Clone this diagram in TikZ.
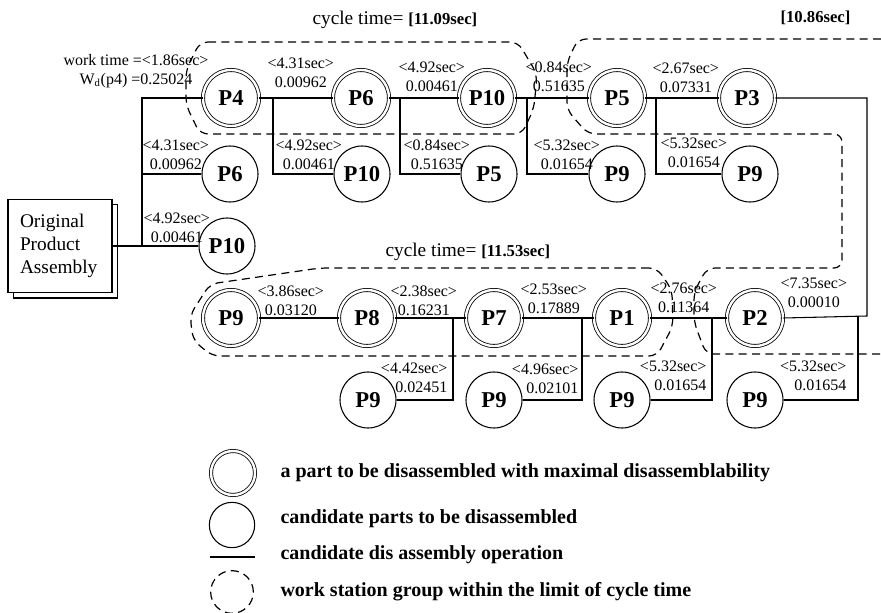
\documentclass[tikz,border=0pt]{standalone}
\usepackage{fontspec}
\setmainfont{Liberation Serif}
\usetikzlibrary{shadows}

\begin{document}
\begin{tikzpicture}[x=0.75pt, y=-0.75pt, line width=0.8pt,
  part/.style={circle, draw, minimum size=42pt, inner sep=0pt,
    font=\fontsize{17}{20}\selectfont\bfseries},
  best/.style={part, double, double distance=1.8pt, line width=0.6pt},
  lbl/.style={inner sep=0pt, align=center, anchor=west,
    font=\fontsize{12}{14}\selectfont},
  rlbl/.style={lbl, align=right, anchor=east},
  grp/.style={dash pattern=on 6pt off 4pt, line width=0.9pt, rounded corners=6pt},
  title/.style={inner sep=0pt, anchor=west, font=\fontsize{14.5}{17}\selectfont},
  note/.style={inner sep=0pt, anchor=west, font=\fontsize{15}{18}\selectfont\bfseries}]
  \useasboundingbox (0,0) rectangle (881,613);

  % original product
  \node[draw, fill=white, copy shadow={shadow xshift=4pt, shadow yshift=-4pt},
    minimum width=78pt, minimum height=70pt, text width=60pt, inner xsep=9pt,
    align=left, font=\fontsize{14.5}{17}\selectfont] (box) at (60,246)
    {Original\\Product\\Assembly};

  % parts, first line
  \node[best] (P4) at (231,98) {P4};
  \node[best] (P6) at (361,98) {P6};
  \node[best] (P10) at (487,98) {P10};
  \node[best] (P5) at (617,98) {P5};
  \node[best] (P3) at (747,98) {P3};
  \node[part] (c6) at (230,174) {P6};
  \node[part] (c10) at (362,174) {P10};
  \node[part] (c5) at (489,174) {P5};
  \node[part] (c9a) at (617,174) {P9};
  \node[part] (c9b) at (750,174) {P9};
  \node[part] (c10l) at (227,246) {P10};

  % parts, second line
  \node[best] (P9) at (231,318) {P9};
  \node[best] (P8) at (367,318) {P8};
  \node[best] (P7) at (494,318) {P7};
  \node[best] (P1) at (622,318) {P1};
  \node[best] (P2) at (755,318) {P2};
  \node[part] (c9c) at (368,400) {P9};
  \node[part] (c9d) at (494,400) {P9};
  \node[part] (c9e) at (622,400) {P9};
  \node[part] (c9f) at (755,400) {P9};

  % branch points
  \coordinate (j0) at (142,246);
  \coordinate (j1) at (273,98);
  \coordinate (j2) at (400,98);
  \coordinate (j3) at (527,98);
  \coordinate (j4) at (656,98);
  \coordinate (r1) at (867,316);
  \coordinate (j5) at (858,316);
  \coordinate (j6) at (712,318);
  \coordinate (j7) at (582,318);
  \coordinate (j8) at (453,318);

  % operations
  \draw (box.east) -- (c10l.west);
  \draw (j0) |- (P4.west);
  \draw (j0) |- (c6.west);
  \draw (P4) -- (P6);
  \draw (j1) |- (c10.west);
  \draw (P6) -- (P10);
  \draw (j2) |- (c5.west);
  \draw (P10) -- (P5);
  \draw (j3) |- (c9a.west);
  \draw (P5) -- (P3);
  \draw (j4) |- (c9b.west);
  \draw (P3.east) -| (r1) -- (P2.east);
  \draw (j5) |- (c9f.east);
  \draw (P1) -- (P2);
  \draw (j6) |- (c9e.east);
  \draw (P7) -- (P1);
  \draw (j7) |- (c9d.east);
  \draw (P8) -- (P7);
  \draw (j8) |- (c9c.east);
  \draw (P9) -- (P8);

  % times and disassemblability
  \node[lbl, anchor=center] (wt) at (136,71)
    {work time =<1.86sec>\\W\textsubscript{d}(p4) =0.25024};
  \node[lbl] (l1) at (267,73) {<4.31sec>\\0.00962};
  \node[lbl] (l2) at (398,77) {<4.92sec>\\0.00461};
  \node[lbl] (l3) at (525,77) {<0.84sec>\\0.51635};
  \node[lbl] (l4) at (652,78) {<2.67sec>\\0.07331};
  \node[lbl] (l5) at (142,155) {<4.31sec>\\0.00962};
  \node[lbl] (l6) at (275,155) {<4.92sec>\\0.00461};
  \node[lbl] (l7) at (403,155) {<0.84sec>\\0.51635};
  \node[lbl] (l8) at (533,155) {<5.32sec>\\0.01654};
  \node[lbl] (l9) at (660,153) {<5.32sec>\\0.01654};
  \node[lbl] (l10) at (143,228) {<4.92sec>\\0.00461};
  \node[lbl] (l11) at (257,301) {<3.86sec>\\0.03120};
  \node[lbl] (l12) at (390,301) {<2.38sec>\\0.16231};
  \node[lbl] (l13) at (520,299) {<2.53sec>\\0.17889};
  \node[lbl] (l14) at (650,298) {<2.76sec>\\0.11364};
  \node[lbl] (l15) at (780,293) {<7.35sec>\\0.00010};
  \node[rlbl] (l16) at (448,378) {<4.42sec>\\0.02451};
  \node[rlbl] (l17) at (579,379) {<4.96sec>\\0.02101};
  \node[rlbl] (l18) at (707,376) {<5.32sec>\\0.01654};
  \node[rlbl] (l19) at (847,376) {<5.32sec>\\0.01654};

  % cycle times
  \node[title] (ct1) at (312,20) {cycle time=\ {\bfseries\fontsize{12.5}{14}\selectfont[11.09sec]}};
  \node[title] (ct2) at (780,18) {\bfseries\fontsize{12.5}{14}\selectfont[10.86sec]};
  \node[title] (ct3) at (385,252) {cycle time=\ {\bfseries\fontsize{12.5}{14}\selectfont[11.53sec]}};

  % work station groups
  \draw[grp] (200,42) -- (518,42) -- (537,74) -- (534,108) -- (522,134)
    -- (200,134) -- (186,105) -- (186,70) -- cycle;
  \draw[grp] (881,39) -- (578,39) -- (567,62) -- (567,110) -- (588,134)
    -- (842,134) -- (842,268) -- (707,268) -- (694,292) -- (694,322)
    -- (706,354) -- (881,354);
  \draw[grp] (657,268) -- (320,268) -- (210,284) -- (190,315) -- (193,340)
    -- (212,356) -- (657,356) -- (673,326) -- (672,290) -- cycle;

  % legend
  \node[best, minimum size=33pt] (kA) at (233,473) {};
  \node[part, minimum size=34pt] (kB) at (232,525) {};
  \coordinate (kC1) at (210,557);
  \coordinate (kC2) at (255,557);
  \draw (kC1) -- (kC2);
  \node[circle, draw, grp, minimum size=32pt] (kD) at (232,592) {};
  \node[note] (t1) at (280,473)
    {a part to be disassembled with maximal disassemblability};
  \node[note] (t2) at (280,519) {candidate parts to be disassembled};
  \node[note] (t3) at (280,555) {candidate dis assembly operation};
  \node[note] (t4) at (280,592) {work station group within the limit of cycle time};
\end{tikzpicture}
\end{document}
